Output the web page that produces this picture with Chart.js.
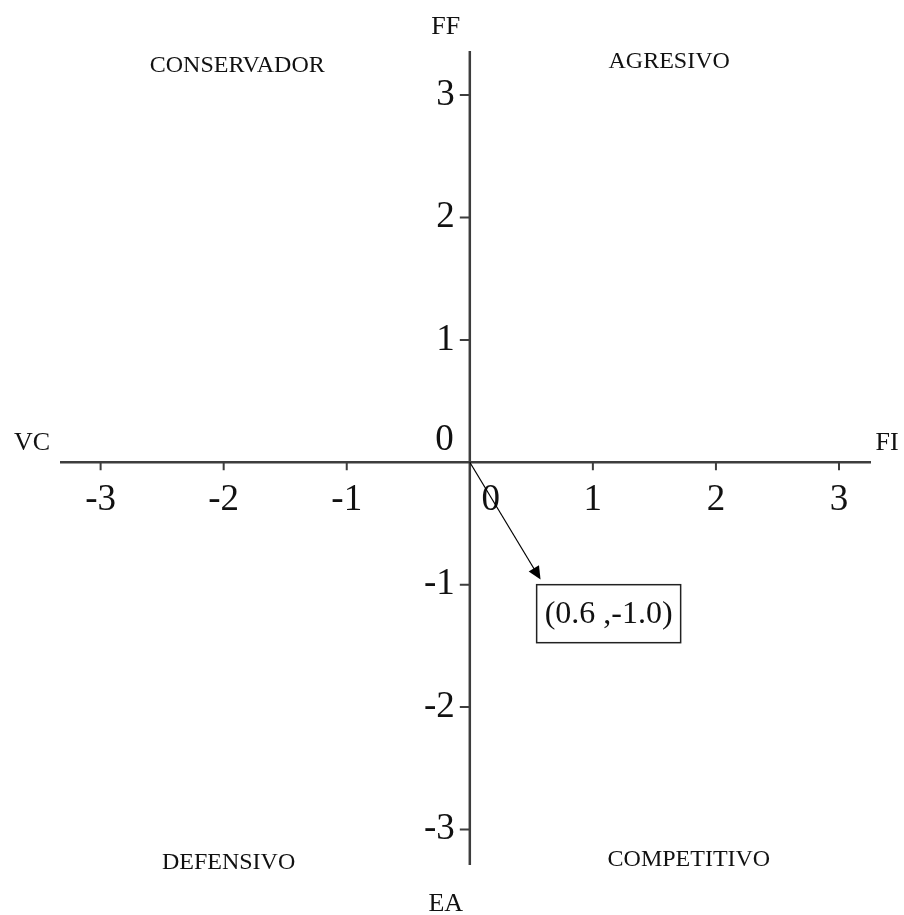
<!DOCTYPE html>
<html>
<head>
<meta charset="utf-8">
<script src="https://cdn.jsdelivr.net/npm/chart.js@4.4.0/dist/chart.umd.min.js"></script>
<style>
html, body { margin: 0; padding: 0; background: #fff; }
#wrap { width: 904px; height: 915px; }
</style>
</head>
<body>
<div id="wrap"><canvas id="peyea" width="904" height="915"></canvas></div>
<script>
// Datos de la matriz PEYEA
const xTicks = [-3, -2, -1, 0, 1, 2, 3];
const yTicks = [-3, -2, -1, 0, 1, 2, 3];
const vectorX = [0.6];
const vectorY = [-1.0];
const vectorLabels = ['(0.6 ,-1.0)'];
const quadrantNames = ['CONSERVADOR', 'AGRESIVO', 'DEFENSIVO', 'COMPETITIVO'];
const axisNames = ['FF', 'EA', 'VC', 'FI']; // arriba, abajo, izquierda, derecha

// Ubicación de los nombres de cuadrante (en unidades del gráfico)
const quadrantPos = [[-1.89, 3.24], [1.62, 3.27], [-1.96, -3.27], [1.78, -3.25]];

const serif = '"Liberation Serif", "Times New Roman", serif';
const ink = '#111';
const axisColor = '#3d3d3d';

// Plugin para dibujar ejes cruzados, etiquetas y el vector
const peyeaPlugin = {
    id: 'peyea',
    beforeDatasetsDraw(chart) {
        const ctx = chart.ctx;
        const xs = chart.scales.x, ys = chart.scales.y, area = chart.chartArea;
        const x0 = xs.getPixelForValue(0), y0 = ys.getPixelForValue(0);
        ctx.save();
        ctx.strokeStyle = axisColor;
        ctx.lineWidth = 2.5;
        ctx.beginPath();
        ctx.moveTo(area.left, y0); ctx.lineTo(area.right, y0);
        ctx.moveTo(x0, area.top); ctx.lineTo(x0, area.bottom);
        ctx.stroke();

        // marcas de los ejes
        ctx.lineWidth = 2;
        ctx.beginPath();
        xTicks.filter(v => v !== 0).forEach(v => {
            const px = xs.getPixelForValue(v);
            ctx.moveTo(px, y0); ctx.lineTo(px, y0 + 8);
        });
        yTicks.filter(v => v !== 0).forEach(v => {
            const py = ys.getPixelForValue(v);
            ctx.moveTo(x0, py); ctx.lineTo(x0 - 10, py);
        });
        ctx.stroke();

        // etiquetas numéricas
        ctx.fillStyle = ink;
        ctx.font = '37px ' + serif;
        ctx.textBaseline = 'middle';
        ctx.textAlign = 'center';
        xTicks.forEach(v => {
            const px = xs.getPixelForValue(v);
            ctx.fillText(String(v), v === 0 ? px + 21 : px, y0 + 38);
        });
        ctx.textAlign = 'right';
        yTicks.forEach(v => {
            const py = ys.getPixelForValue(v);
            if (v === 0) ctx.fillText('0', x0 - 16, y0 - 22);
            else ctx.fillText(String(v), x0 - 15, py);
        });

        // nombres de los ejes
        ctx.font = '26px ' + serif;
        ctx.textAlign = 'center';
        ctx.fillText(axisNames[0], x0 - 24, area.top - 24);
        ctx.fillText(axisNames[1], x0 - 24, area.bottom + 39);
        ctx.fillText(axisNames[2], area.left - 28, y0 - 19);
        ctx.fillText(axisNames[3], area.right + 16, y0 - 19);

        // nombres de los cuadrantes
        ctx.font = '24px ' + serif;
        quadrantNames.forEach((name, i) => {
            ctx.fillText(name, xs.getPixelForValue(quadrantPos[i][0]), ys.getPixelForValue(quadrantPos[i][1]));
        });
        ctx.restore();
    },
    afterDatasetsDraw(chart) {
        const ctx = chart.ctx;
        const xs = chart.scales.x, ys = chart.scales.y;
        const x0 = xs.getPixelForValue(0), y0 = ys.getPixelForValue(0);
        const meta = chart.getDatasetMeta(0);
        meta.data.forEach((pt, i) => {
            const dx = pt.x - x0, dy = pt.y - y0;
            const len = Math.sqrt(dx * dx + dy * dy);
            const ux = dx / len, uy = dy / len;
            const ex = x0 + ux * (len - 6), ey = y0 + uy * (len - 6);
            ctx.save();
            ctx.strokeStyle = '#000';
            ctx.fillStyle = '#000';
            ctx.lineWidth = 1.2;
            ctx.beginPath();
            ctx.moveTo(x0, y0);
            ctx.lineTo(ex - ux * 10, ey - uy * 10);
            ctx.stroke();
            // punta de flecha
            ctx.beginPath();
            ctx.moveTo(ex, ey);
            ctx.lineTo(ex - ux * 13 - uy * 6, ey - uy * 13 + ux * 6);
            ctx.lineTo(ex - ux * 13 + uy * 6, ey - uy * 13 - ux * 6);
            ctx.closePath();
            ctx.fill();

            // recuadro con coordenadas
            const bx = pt.x - 7, by = pt.y, bw = 144, bh = 58;
            ctx.strokeStyle = '#222';
            ctx.lineWidth = 1.5;
            ctx.strokeRect(bx, by, bw, bh);
            ctx.fillStyle = ink;
            ctx.font = '32px ' + serif;
            ctx.textAlign = 'center';
            ctx.textBaseline = 'middle';
            ctx.fillText(vectorLabels[i], bx + bw / 2, by + bh / 2 + 1);
            ctx.restore();
        });
    }
};

new Chart(document.getElementById('peyea'), {
    type: 'scatter',
    data: {
        datasets: [{
            label: 'Vector',
            data: vectorX.map((x, i) => ({ x: x, y: vectorY[i] })),
            pointRadius: 0,
            pointHoverRadius: 0
        }]
    },
    options: {
        responsive: false,
        animation: false,
        layout: { padding: { left: 60, right: 33, top: 51, bottom: 50 } },
        plugins: { legend: { display: false }, tooltip: { enabled: false } },
        scales: {
            x: { type: 'linear', min: -3.33, max: 3.26, display: false },
            y: { type: 'linear', min: -3.29, max: 3.36, display: false }
        }
    },
    plugins: [peyeaPlugin]
});
</script>
</body>
</html>
